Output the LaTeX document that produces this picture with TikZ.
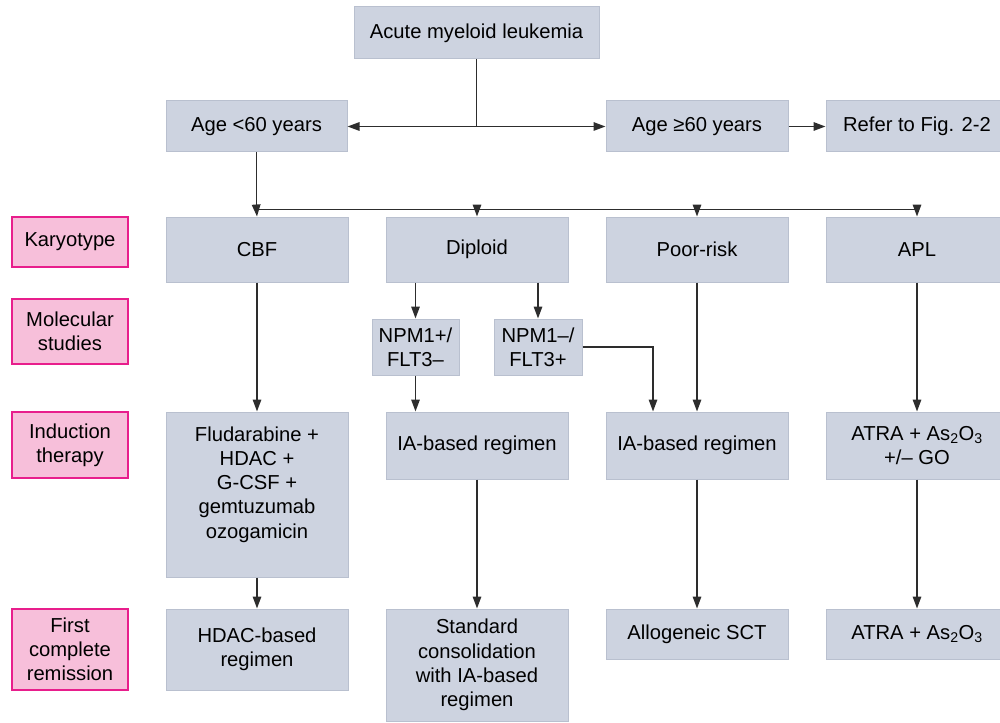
\documentclass[tikz,border=0pt]{standalone}
\usepackage{fontspec}
\setmainfont{Liberation Sans}
\usepackage{tikz}
\usetikzlibrary{arrows.meta, positioning, calc}
\definecolor{boxfill}{RGB}{205,211,224}
\definecolor{boxline}{RGB}{185,192,207}
\definecolor{tagfill}{RGB}{247,191,218}
\definecolor{tagline}{RGB}{232,30,140}
\definecolor{linkgray}{RGB}{45,45,45}

\tikzset{
  stepbox/.style={draw=boxline, fill=boxfill, line width=1pt, align=center,
    inner sep=0pt, font=\fontsize{20.2}{24.2}\selectfont},
  rowtag/.style={draw=tagline, fill=tagfill, line width=1.3pt, align=center,
    inner sep=0pt, minimum width=116pt, font=\fontsize{20.2}{24.2}\selectfont},
  link/.style={linkgray, line width=1.5pt},
  arrow/.style={link, -{Triangle[length=12pt, width=8.5pt]}}
}

\begin{document}
\begin{tikzpicture}[x=1pt, y=-1pt]
  \useasboundingbox (0,0) rectangle (1000,722);
  % Top level
  \node[stepbox, minimum width=245pt, minimum height=52pt] (aml) at (476.5,33) {Acute myeloid leukemia};
  \node[stepbox, minimum width=181pt, minimum height=51pt] (young) at (256.5,126.5) {Age <60 years};
  \node[stepbox, minimum width=182pt, minimum height=51pt] (old) at (697,126.5) {Age ≥60 years};
  \node[stepbox, minimum width=182pt, minimum height=51pt] (refer) at (917,126.5) {Refer to Fig. 2-2};
  % Row tags
  \node[rowtag, minimum height=50pt] (tkary) at (70,242) {Karyotype};
  \node[rowtag, minimum height=65pt] (tmol) at (70,331.5) {Molecular\\studies};
  \node[rowtag, minimum height=66pt] (tind) at (70,445) {Induction\\therapy};
  \node[rowtag, minimum height=81pt] (tcr) at (70,649.5) {First\\complete\\remission};
  % Karyotype
  \node[stepbox, minimum width=182pt, minimum height=65pt] (cbf) at (257,249.5) {CBF};
  \node[stepbox, minimum width=182pt, minimum height=65pt] (diploid) at (477,249.5) {Diploid};
  \node[stepbox, minimum width=182pt, minimum height=65pt] (poor) at (697,249.5) {Poor-risk};
  \node[stepbox, minimum width=182pt, minimum height=65pt] (apl) at (917,249.5) {APL};
  % Molecular studies
  \node[stepbox, minimum width=87pt, minimum height=56pt] (npmpos) at (415.5,347) {NPM1+/\\FLT3--};
  \node[stepbox, minimum width=88pt, minimum height=56pt] (npmneg) at (538,347) {NPM1--/\\FLT3+};
  % Induction therapy
  \node[stepbox, minimum width=182pt, minimum height=165pt] (fluda) at (257,494.5)
    {Fludarabine +\\HDAC +\\G-CSF +\\gemtuzumab\\ozogamicin\\\mbox{}};
  \node[stepbox, minimum width=182pt, minimum height=67pt] (iadip) at (477,445.5) {IA-based regimen};
  \node[stepbox, minimum width=182pt, minimum height=67pt] (iapoor) at (697,445.5) {IA-based regimen};
  \node[stepbox, minimum width=182pt, minimum height=67pt] (atrago) at (917,445.5)
    {ATRA + As\textsubscript{2}O\textsubscript{3}\\+/-- GO};
  % First complete remission
  \node[stepbox, minimum width=182pt, minimum height=81pt] (hdac) at (257,649.5) {HDAC-based\\regimen};
  \node[stepbox, minimum width=182pt, minimum height=112pt] (std) at (477,665)
    {Standard\\consolidation\\with IA-based\\regimen};
  \node[stepbox, minimum width=182pt, minimum height=50pt] (allo) at (697,634) {Allogeneic SCT};
  \node[stepbox, minimum width=182pt, minimum height=50pt] (atra) at (917,634)
    {ATRA + As\textsubscript{2}O\textsubscript{3}};
  % Age split
  \coordinate (split) at (aml.south |- young.east);
  \draw[link] (aml.south) -- (split);
  \draw[arrow] (split) -- (young.east);
  \draw[arrow] (split) -- (old.west);
  \draw[arrow] (old.east) -- (refer.west);
  % Karyotype split
  \coordinate (bus) at ($(young.south)+(0,57)$);
  \draw[link] (young.south) -- (bus) -- (bus -| apl.north);
  \draw[arrow] (bus) -- (cbf.north);
  \draw[arrow] (bus -| diploid.north) -- (diploid.north);
  \draw[arrow] (bus -| poor.north) -- (poor.north);
  \draw[arrow] (bus -| apl.north) -- (apl.north);
  % Diploid branch
  \draw[arrow] (diploid.south -| npmpos.north) -- (npmpos.north);
  \draw[arrow] (diploid.south -| npmneg.north) -- (npmneg.north);
  \draw[arrow] (npmpos.south) -- (npmpos.south |- iadip.north);
  \draw[arrow] (npmneg.east) -| ($(iapoor.north)+(-44,0)$);
  % Down to induction
  \draw[arrow] (cbf.south) -- (fluda.north);
  \draw[arrow] (poor.south) -- (iapoor.north);
  \draw[arrow] (apl.south) -- (atrago.north);
  % Down to remission
  \draw[arrow] (fluda.south) -- (hdac.north);
  \draw[arrow] (iadip.south) -- (std.north);
  \draw[arrow] (iapoor.south) -- (allo.north);
  \draw[arrow] (atrago.south) -- (atra.north);
\end{tikzpicture}
\end{document}
